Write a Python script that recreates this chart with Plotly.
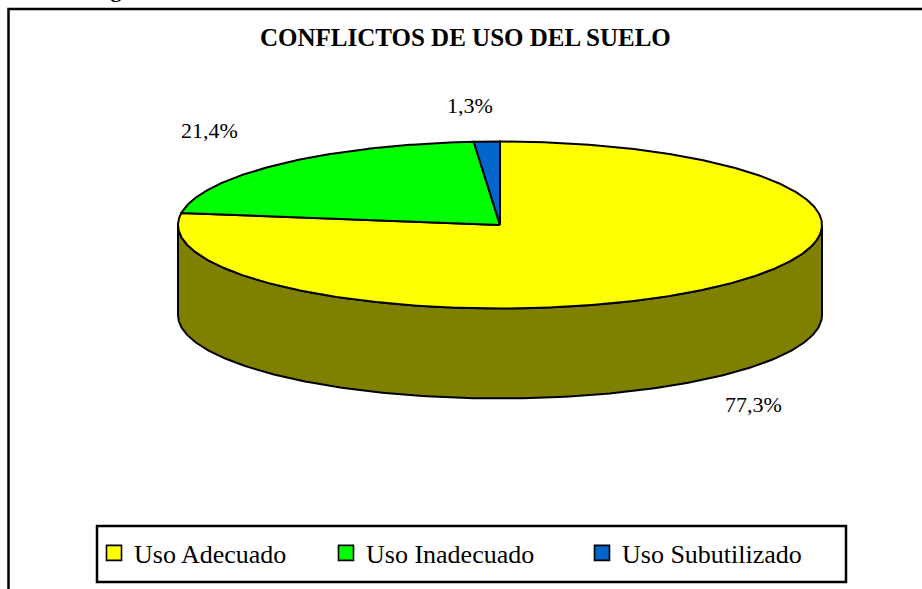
import numpy as np
import plotly.graph_objects as go

# ---- data ----
title_text = "CONFLICTOS DE USO DEL SUELO"
categories = ["Uso Adecuado", "Uso Inadecuado", "Uso Subutilizado"]
shares = [77.3, 21.4, 1.3]
share_labels = ["77,3%", "21,4%", "1,3%"]

# ---- styling ----
top_colors = ["#FFFF00", "#00FF00", "#0066CC"]
wall_colors = ["#808000", "#008000", "#003366"]
SERIF = "Liberation Serif, Times New Roman, serif"

W, H = 922, 589
CX, CY = 500, 225          # centre of the pie's top face (page pixels)
RX, RY = 322, 83.5         # radii of the tilted top face
DEPTH = 90                 # thickness of the disc
label_shift = [(43, 26), (-70, -34), (-17, -36)]


def rim(theta_deg, drop=0.0):
    t = np.radians(theta_deg)
    return CX + RX * np.cos(t), CY - RY * np.sin(t) + drop


total = float(sum(shares))
# slices start at 12 o'clock and run clockwise
bounds = 90 - 360 * np.concatenate([[0.0], np.cumsum(shares)]) / total

fig = go.Figure()

# side walls: only the front half of the disc (angles -180..0) is visible
for i in range(len(shares)):
    a0, a1 = bounds[i], bounds[i + 1]
    for lo, hi in [(-180, 0), (-540, -360), (180, 360)]:
        s, e = min(a0, hi), max(a1, lo)
        if s <= e:
            continue
        th = np.linspace(s, e, 240)
        tx, ty = rim(th)
        bx, by = rim(th[::-1], DEPTH)
        fig.add_trace(go.Scatter(
            x=np.concatenate([tx, bx, tx[:1]]),
            y=np.concatenate([ty, by, ty[:1]]),
            mode="lines", fill="toself", fillcolor=wall_colors[i],
            line=dict(color="black", width=2),
            hoverinfo="skip", showlegend=False))

# top faces of the slices
for i in range(len(shares)):
    th = np.linspace(bounds[i], bounds[i + 1], max(int(abs(bounds[i] - bounds[i + 1]) * 2), 8))
    ax_, ay_ = rim(th)
    fig.add_trace(go.Scatter(
        x=np.concatenate([[CX], ax_, [CX]]),
        y=np.concatenate([[CY], ay_, [CY]]),
        mode="lines", fill="toself", fillcolor=top_colors[i],
        line=dict(color="black", width=2),
        hoverinfo="skip", showlegend=False))

# legend entries (one legend per entry so they can be spaced freely)
legend_names = ["legend", "legend2", "legend3"]
for i, cat in enumerate(categories):
    fig.add_trace(go.Scatter(
        x=[None], y=[None], mode="markers", name=cat,
        marker=dict(symbol="square", size=15, color=top_colors[i],
                    line=dict(color="black", width=1.6)),
        legend=legend_names[i], showlegend=True))

# percentage labels just outside each slice
annotations = []
for i, txt in enumerate(share_labels):
    mid = (bounds[i] + bounds[i + 1]) / 2
    drop = DEPTH if np.sin(np.radians(mid)) < 0 else 0
    lx, ly = rim(mid, drop)
    dx, dy = label_shift[i]
    annotations.append(dict(
        x=lx, y=ly, xref="x", yref="y", text=txt, showarrow=False,
        xshift=dx, yshift=-dy, font=dict(family=SERIF, size=22, color="black")))

annotations.append(dict(
    x=465, y=37, xref="x", yref="y", text="<b>" + title_text + "</b>",
    showarrow=False, font=dict(family=SERIF, size=25, color="black")))

# running heading of the page, mostly cut off at the top edge
annotations.append(dict(
    x=89, y=4, xref="x", yref="y", xanchor="left", yanchor="bottom",
    text="<b>Figura</b>", showarrow=False,
    font=dict(family=SERIF, size=22, color="black")))

shapes = [
    # chart frame
    dict(type="rect", xref="x", yref="y", x0=8.5, y0=9, x1=960, y1=640,
         line=dict(color="black", width=2.5), layer="below"),
    # legend box
    dict(type="rect", xref="x", yref="y", x0=97, y0=526, x1=846, y1=582,
         line=dict(color="black", width=2.5)),
]

legend_x = [106, 338, 594]
leg_common = dict(orientation="h", yanchor="middle", xanchor="left",
                  y=1 - 553 / H, bgcolor="rgba(0,0,0,0)", borderwidth=0,
                  font=dict(family=SERIF, size=26, color="black"))

fig.update_layout(
    width=W, height=H, margin=dict(l=0, r=0, t=0, b=0),
    paper_bgcolor="white", plot_bgcolor="white",
    xaxis=dict(range=[0, W], visible=False, fixedrange=True),
    yaxis=dict(range=[H, 0], visible=False, fixedrange=True),
    annotations=annotations, shapes=shapes,
    legend=dict(x=(legend_x[0] - 12) / W, **leg_common),
    legend2=dict(x=(legend_x[1] - 12) / W, **leg_common),
    legend3=dict(x=(legend_x[2] - 12) / W, **leg_common),
)

fig.write_html("out.html")
